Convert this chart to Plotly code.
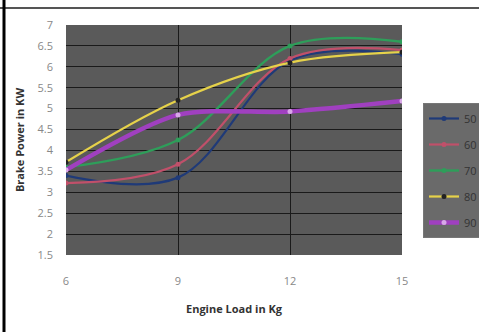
import plotly.graph_objects as go

# Engine load (kg) and brake power (kW) per series
engine_load = [6, 9, 12, 15]
series_names = ["50", "60", "70", "80", "90"]
bp_50 = [3.4, 3.35, 6.15, 6.3]
bp_60 = [3.22, 3.67, 6.2, 6.4]
bp_70 = [3.6, 4.25, 6.5, 6.6]
bp_80 = [3.72, 5.2, 6.1, 6.35]
bp_90 = [3.53, 4.85, 4.93, 5.18]

y_ticks = [1.5, 2, 2.5, 3, 3.5, 4, 4.5, 5, 5.5, 6, 6.5, 7]

series = [bp_50, bp_60, bp_70, bp_80, bp_90]
colors = ["#1f3a78", "#c0506a", "#2e9e5a", "#e6d24a", "#a040c0"]
widths = [2.2, 2.2, 2.4, 2.2, 4.5]
marker_colors = ["#1f3a78", "#c0506a", "#2e9e5a", "#222222", "#d8a8e8"]
smooth = [1.0, 1.0, 1.0, 1.0, 0.8]

fig = go.Figure()
for name, ys, c, w, mc, s in zip(series_names, series, colors, widths, marker_colors, smooth):
    fig.add_trace(go.Scatter(
        x=engine_load, y=ys, name=name, mode="lines+markers", legendgroup=name,
        line=dict(color=c, width=w, shape="spline", smoothing=s),
        marker=dict(color=mc, size=5, symbol="circle"),
    ))

fig.update_layout(
    width=479, height=332,
    margin=dict(l=66, r=77, t=25, b=77, autoexpand=False),
    paper_bgcolor="white",
    plot_bgcolor="#5a5a5a",
    font=dict(family="Open Sans, Liberation Sans, sans-serif", size=11, color="#888888"),
    showlegend=True,
    legend=dict(
        x=(423 - 66) / 336, y=1 - (103 - 25) / 230, xanchor="left", yanchor="top",
        bgcolor="#6a6a6a", bordercolor="#777777", borderwidth=1,
        font=dict(size=11, color="#333333"),
        itemwidth=30, tracegroupgap=7,
    ),
    xaxis=dict(
        range=[6, 15], tickvals=engine_load, ticktext=[str(v) for v in engine_load],
        showgrid=True, gridcolor="#1a1a1a", gridwidth=1,
        zeroline=False, showline=False, ticks="", ticklabelstandoff=18,
        title=dict(text="<b>Engine Load in Kg</b>", font=dict(size=11, color="#333333"), standoff=18),
    ),
    yaxis=dict(
        range=[1.5, 7], tickvals=y_ticks, ticktext=[f"{v:g}" for v in y_ticks],
        showgrid=True, gridcolor="#1a1a1a", gridwidth=1,
        zeroline=False, showline=False, ticks="", ticklabelstandoff=12,
        title=dict(text="<b>Brake Power in KW</b>", font=dict(size=11, color="#333333"), standoff=10),
    ),
    shapes=[
        dict(type="line", xref="paper", yref="paper",
             x0=-66/336, x1=1.4, y0=1+17/230, y1=1+17/230,
             line=dict(color="#555555", width=2)),
        dict(type="line", xref="paper", yref="paper",
             x0=-62/336, x1=-62/336, y0=-77/230, y1=1+25/230,
             line=dict(color="black", width=3)),
    ],
)

fig.write_html(
    "out.html",
    post_script="document.body.style.margin='0';document.body.style.overflow='hidden';",
)
